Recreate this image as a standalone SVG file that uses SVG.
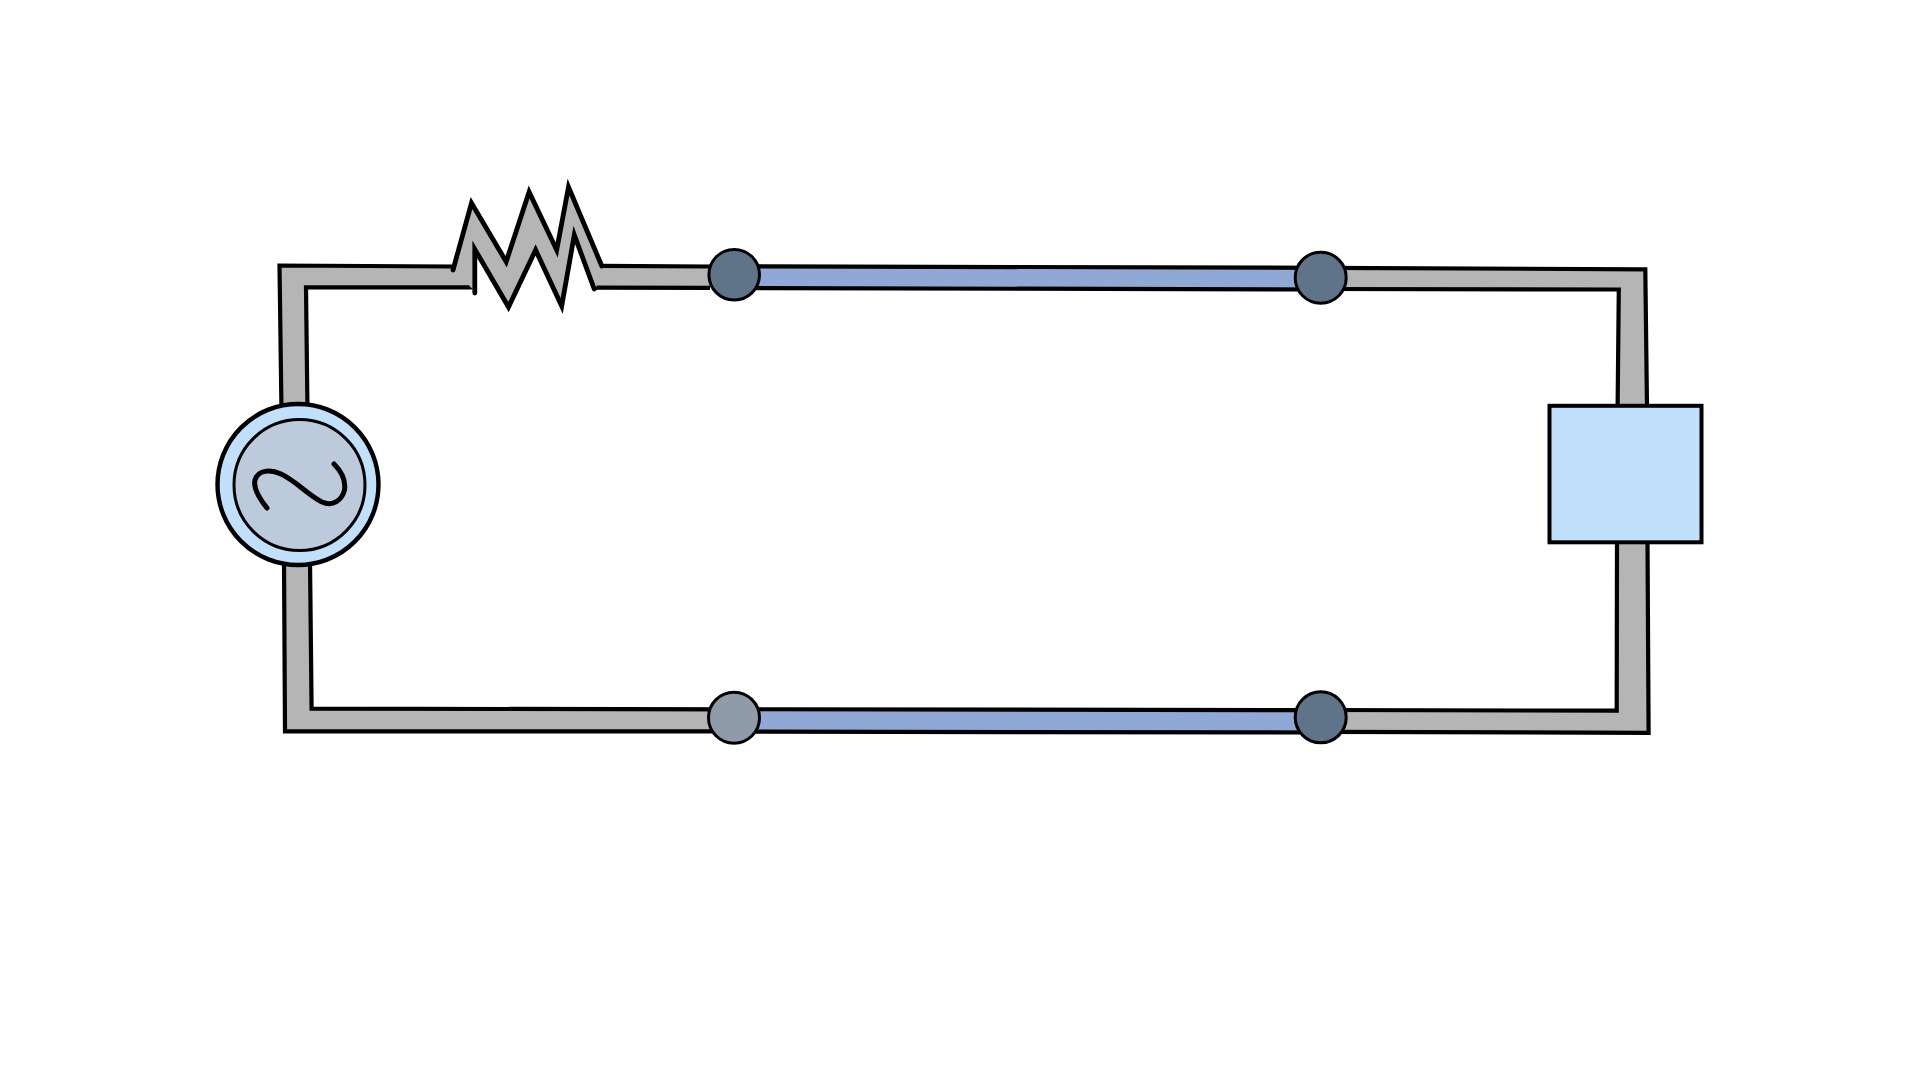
<svg xmlns="http://www.w3.org/2000/svg" width="1920" height="1080" viewBox="0 0 1920 1080">
  <style>
    .wire { fill: #b5b5b5; stroke: none; }
    .bar { fill: #90a8d6; stroke: none; }
    .edge { fill: none; stroke: #000; stroke-width: 4.2; stroke-linecap: butt; stroke-linejoin: miter; }
    .zig { fill: none; stroke: #000; stroke-width: 4.8; stroke-linecap: round; stroke-linejoin: miter; }
    .port { stroke: #000; stroke-width: 3; }
  </style>
  <rect width="1920" height="1080" fill="#fff"/>
  <g id="connectors">
    <path class="wire" d="M281,412 L278.5,264.5 L456,266 L476,288 L305.6,287.3 L307,412 Z"/>
    <path class="edge" d="M281.5,412 L279.5,265.5 L453.5,266.5"/>
    <path class="edge" d="M307.5,412 L306,287.3 L475,287.3"/>
    <path class="wire" d="M596,266 L734,266.5 L734,287.5 L594,287.5 Z"/>
    <path class="edge" d="M601.5,265.8 L710,266.5"/>
    <path class="edge" d="M594,287.6 L710,287.8"/>
    <path class="bar" d="M734,267 L1321,268 L1321,288.5 L734,287.5 Z"/>
    <path class="edge" d="M734,266.3 L1321,267.8"/>
    <path class="edge" d="M734,288 L1321,289.5"/>
    <path class="wire" d="M1321,268 L1645.7,269.5 L1647,407 L1618,407 L1618,289.5 L1321,288.5 Z"/>
    <path class="edge" d="M1321,267.8 L1645.3,269.3 L1647,407"/>
    <path class="edge" d="M1321,289 L1618.8,289.5 L1617.6,407"/>
    <path class="wire" d="M1617,541 L1648,541 L1648.5,732.5 L1321,731.5 L1321,710.5 L1616.7,710.7 Z"/>
    <path class="edge" d="M1617,541 L1616.7,710.7 L1321,710"/>
    <path class="edge" d="M1647.5,541 L1648.6,732.8 L1321,731.8"/>
    <path class="bar" d="M734,710 L1321,711 L1321,731.5 L734,731 Z"/>
    <path class="edge" d="M734,709.2 L1321,710.2"/>
    <path class="edge" d="M734,731.6 L1321,732.5"/>
    <path class="wire" d="M284,560 L310,560 L311.5,709 L734,709.5 L734,731 L285,731 Z"/>
    <path class="edge" d="M284,560 L285,731.4 L734,731.4"/>
    <path class="edge" d="M310,560 L311.6,708.6 L734,709.4"/>
  </g>
  <g id="resistor">
    <path class="wire" d="M453.3,267.7 L472.5,200.7 L506.2,261.7 L529.1,189.7 L556.7,250 L568.5,184 L601.8,266 L596,288 L594.2,287.3 L574.3,235 L561.7,308.3 L535.6,250 L508.5,309.3 L474.8,249.3 L474.8,291.7 Z"/>
    <path class="zig" d="M453,270 L471.5,203 L506.2,261.7 L529.1,192 L556.7,250 L568.5,187 L601.8,266"/>
    <path class="zig" d="M594.2,289 L574.3,235 L561.7,306 L535.6,250 L508.5,307 L474.8,249.3 L474.8,293"/>
  </g>
  <g id="source">
    <circle cx="298" cy="484.5" r="80.5" fill="#c0e0fb" stroke="#000" stroke-width="4.4"/>
    <circle cx="299.5" cy="485" r="65.5" fill="#bccadb" stroke="#000" stroke-width="3"/>
    <path d="M267,508 C259,498 253,488 255,480 C258,470 270,469 281,474 C296,481 308,495 322,502 C333,507 342,500 344.5,490 C346,480 341,471 334,464" fill="none" stroke="#000" stroke-width="5" stroke-linecap="round"/>
  </g>
  <g id="load">
    <rect x="1549.5" y="405.8" width="152" height="136.5" fill="#c0e0fb" stroke="#000" stroke-width="4"/>
  </g>
  <g id="node-top-left"><circle class="port" cx="734.2" cy="274.7" r="25.3" fill="#5f7489"/></g>
  <g id="node-top-right"><circle class="port" cx="1320.7" cy="277.7" r="25.5" fill="#5f7489"/></g>
  <g id="node-bottom-left"><circle class="port" cx="734" cy="717.7" r="25.5" fill="#8f9ca8"/></g>
  <g id="node-bottom-right"><circle class="port" cx="1320.7" cy="717.3" r="25.5" fill="#5f7489"/></g>
</svg>
